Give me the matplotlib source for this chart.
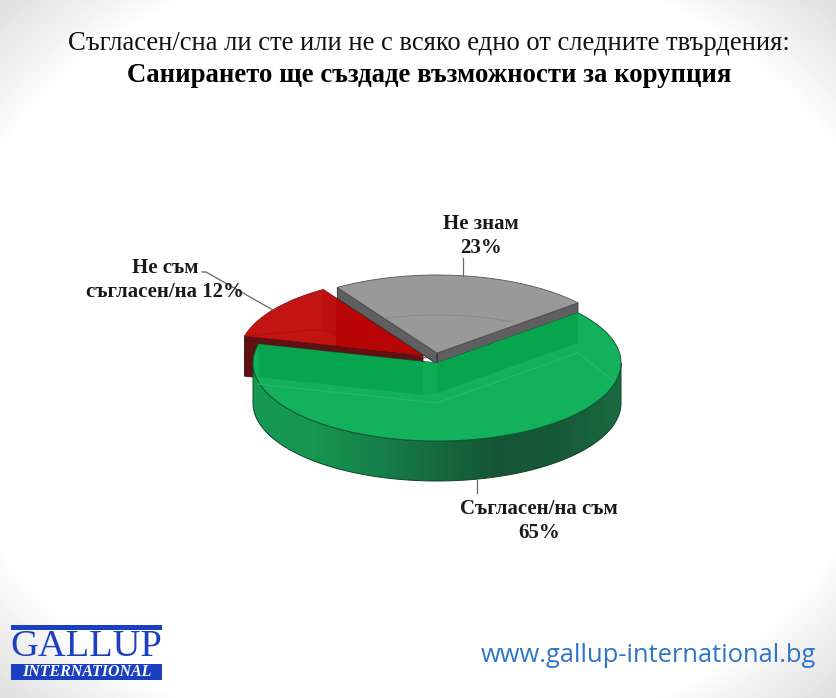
# -*- coding: utf-8 -*-
import numpy as np
import matplotlib
matplotlib.use("Agg")
import matplotlib.pyplot as plt
from matplotlib.colors import LinearSegmentedColormap
from matplotlib.patches import Polygon, Rectangle

# data
categories = ["Съгласен/на съм", "Не съм\nсъгласен/на", "Не знам"]
values = [65, 12, 23]
title_1 = "Съгласен/сна ли сте или не с всяко едно от следните твърдения:"
title_2 = "Санирането ще създаде възможности за корупция"
site = "www.gallup-international.bg"

# pie layout, all in pixels of the picture
CX, CY = 437, 363
RX, RY = 184, 78
START = 40  # green slice starts here and runs clockwise


def arc(cx, cy, a1, a2, n=120):
    t = np.radians(np.linspace(a1, a2, n))
    return np.column_stack([cx + RX * np.cos(t), cy - RY * np.sin(t)])


def sector(cx, cy, a1, a2):
    return np.vstack([[cx, cy], arc(cx, cy, a1, a2)])


def down(pts, d):
    return pts + np.array([0, d])


fig = plt.figure(figsize=(8.36, 6.98), dpi=100)
ax = fig.add_axes([0, 0, 1, 1])
ax.set_xlim(0, 836)
ax.set_ylim(698, 0)
ax.axis("off")

# background, white with grey corners
yy, xx = np.mgrid[0:698, 0:836]
dist = np.sqrt(((xx - 418) / 418.0) ** 2 + ((yy - 349) / 349.0) ** 2)
bg = 1 - 0.13 * np.clip(dist - 1.14, 0, 1) / 0.274
ax.imshow(bg, cmap="gray", vmin=0, vmax=1, extent=(0, 836, 698, 0), aspect="auto", zorder=0)

# slice angles from the values
ang_green = values[0] / 100 * 360
ang_red = values[1] / 100 * 360
g1, g2 = START - ang_green, START             # green, clockwise from START
r1 = g1 + 360 - ang_red                       # red follows green
r2 = g1 + 360
y1, y2 = START, r1                            # grey closes the circle

# red slice, pulled out
rc = (CX - 14, CY - 8)
red_d = 40
edge = arc(rc[0], rc[1], r2, r2, 1)[0]
ax.add_patch(Polygon([rc, edge, down(edge, red_d), down(np.array(rc), red_d)],
                     fc="#5e1012", ec="#3a0808", lw=0.6, zorder=2))
red_top = Polygon(sector(rc[0], rc[1], r1, r2), fc="#c21512", ec="#7a1010", lw=0.5, zorder=3)
ax.add_patch(red_top)
# inner walls showing through the red top
top_end = arc(rc[0], rc[1], r1, r1, 1)[0]
inner = Polygon([top_end, rc, down(np.array(rc), red_d), down(top_end, red_d)],
                fc="#bb1010", ec="none", zorder=3)
ax.add_patch(inner)
inner.set_clip_path(red_top)
inner2 = Rectangle((top_end[0] + 13, rc[1] - 90), 120, 120, fc="#b80404", ec="none", zorder=3)
ax.add_patch(inner2)
inner2.set_clip_path(red_top)
ax.plot([edge[0], top_end[0] - 3, rc[0] + 3], [edge[1], top_end[1] + 40, rc[1] + 3],
        color="#a81010", lw=0.6, zorder=3)

# grey slice, pulled out
yc = (CX, CY - 10)
y_d = 11
for a in (y1, y2):
    e = arc(yc[0], yc[1], a, a, 1)[0]
    ax.add_patch(Polygon([yc, e, down(e, y_d), down(np.array(yc), y_d)],
                         fc="#5f5f5f", ec="#2a2a2a", lw=0.6, zorder=4))
ax.add_patch(Polygon(sector(yc[0], yc[1], y1, y2), fc="#999999", ec="#555555", lw=0.6, zorder=5))
ax.plot(*arc(yc[0], yc[1] + 40, y1 + 26, y2 - 17).T, color="#888888", lw=0.7, zorder=5)

# green outer wall with the side gradient
wall_pts = np.vstack([arc(CX, CY, 180, 360), down(arc(CX, CY, 360, 180), 40)])
wall = Polygon(wall_pts, fc="none", ec="#12402a", lw=0.7, zorder=6)
ax.add_patch(wall)
wall_cmap = LinearSegmentedColormap.from_list(
    "wall", ["#159a55", "#17964f", "#16804a", "#166a40", "#155536", "#175a39", "#1a6a42"])
grad = ax.imshow(np.linspace(0, 1, 256)[None, :], cmap=wall_cmap,
                 extent=(CX - RX, CX + RX, CY + RY + 40, CY), aspect="auto", zorder=5.5)
grad.set_clip_path(wall)

# green top, see-through with the inner walls showing
ax.add_patch(Polygon(sector(CX, CY, g1, g2), fc="#14b15c", ec="#0d5c35", lw=0.7, zorder=7))
ax.set_xlim(0, 836)
ax.set_ylim(698, 0)
e1 = arc(CX, CY, g1, g1, 1)[0]
e2 = arc(CX, CY, g2, g2, 1)[0]
ax.add_patch(Polygon([[CX, CY], e2, down(e2, 30), [CX, CY + 30]], fc="#06a54e", ec="none", zorder=8))
ax.add_patch(Polygon([[CX - 14, CY - 1], e1, down(e1, 33), [CX - 14, CY + 32]], fc="#06a54e", ec="none", zorder=8))
ax.add_patch(Polygon([[CX, CY], [CX - 14, CY - 1], [CX - 14, CY + 32], [CX, CY + 30]], fc="#0cad56", ec="none", zorder=8))
ax.plot([e1[0], CX, e2[0], e2[0] + 35], [e1[1] + 40, CY + 40, e2[1] + 40, e2[1] + 68],
        color="#2bb56c", lw=0.9, zorder=8)

# leader lines
ax.plot([463, 463], [258, 276], color="#666666", lw=0.9, zorder=9)
ax.plot([477, 477], [480, 493], color="#666666", lw=0.9, zorder=9)
ax.plot([202, 206, 273], [272, 272, 310], color="#666666", lw=0.9, zorder=9)

# labels
serif = "Liberation Serif"
lab = dict(family=serif, weight="bold", fontsize=15, ha="center", va="center",
           color="#1a1a1a", linespacing=1.27, zorder=10)
ax.text(481, 236, "%s\n%d%%" % (categories[2], values[2]), **lab)
ax.text(165, 280, "%s\n%s %d%%" % (categories[1].split("\n")[0], categories[1].split("\n")[1], values[1]), **lab)
ax.text(539, 521, "%s\n%d%%" % (categories[0], values[0]), **lab)

# titles
ax.text(428.5, 43, title_1, family=serif, fontsize=19.2, ha="center", va="center", color="#111111")
ax.text(429, 76, title_2, family=serif, weight="bold", fontsize=19.3, ha="center", va="center", color="#000000")

# logo and site address
blue = "#1a3fc0"
ax.add_patch(Rectangle((11, 625), 151, 5, fc=blue, ec="none"))
ax.text(86.5, 646.5, "GALLUP", family=serif, fontsize=27.7, ha="center", va="center", color=blue)
ax.add_patch(Rectangle((11, 664), 151, 16, fc=blue, ec="none"))
ax.text(87, 672.5, "INTERNATIONAL", family=serif, style="italic", weight="bold", fontsize=11.5,
        ha="center", va="center", color="white")
ax.text(816, 656, site, family="Open Sans", fontsize=18.4, ha="right", va="center", color="#2e75c8")

fig.savefig("out.png", dpi=100)
